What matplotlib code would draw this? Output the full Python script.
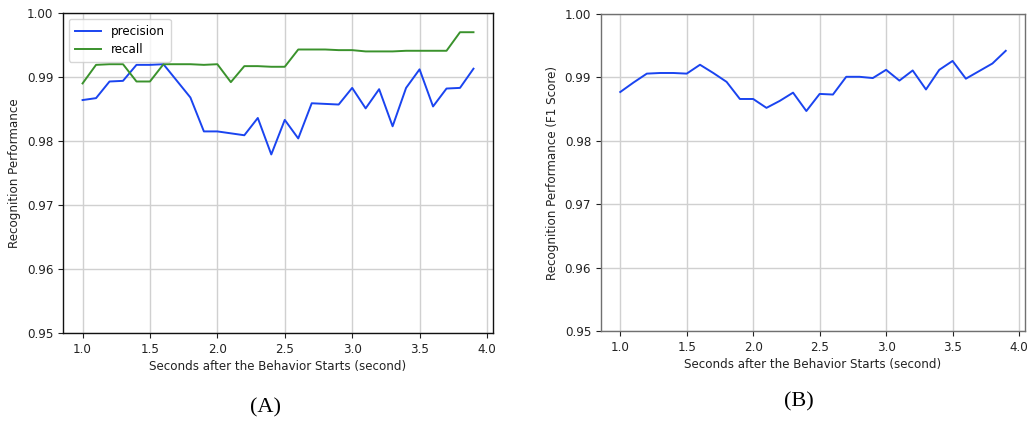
import numpy as np
import matplotlib.pyplot as plt

# seconds after the behavior starts
seconds = [1.0, 1.1, 1.2, 1.3, 1.4, 1.5, 1.6, 1.7, 1.8, 1.9,
           2.0, 2.1, 2.2, 2.3, 2.4, 2.5, 2.6, 2.7, 2.8, 2.9,
           3.0, 3.1, 3.2, 3.3, 3.4, 3.5, 3.6, 3.7, 3.8, 3.9]

precision = [0.9864, 0.9867, 0.9893, 0.9894, 0.9919, 0.9919, 0.9920, 0.9894, 0.9868, 0.9815,
             0.9815, 0.9812, 0.9809, 0.9836, 0.9779, 0.9833, 0.9804, 0.9859, 0.9858, 0.9857,
             0.9883, 0.9851, 0.9881, 0.9823, 0.9883, 0.9912, 0.9854, 0.9882, 0.9883, 0.9913]

recall = [0.9890, 0.9919, 0.9920, 0.9920, 0.9893, 0.9893, 0.9920, 0.9920, 0.9920, 0.9919,
          0.9920, 0.9892, 0.9917, 0.9917, 0.9916, 0.9916, 0.9943, 0.9943, 0.9943, 0.9942,
          0.9942, 0.9940, 0.9940, 0.9940, 0.9941, 0.9941, 0.9941, 0.9941, 0.9970, 0.9970]

f1 = [0.9877, 0.9892, 0.9906, 0.9907, 0.9907, 0.9906, 0.9920, 0.9907, 0.9893, 0.9866,
      0.9866, 0.9852, 0.9863, 0.9876, 0.9847, 0.9874, 0.9873, 0.9901, 0.9901, 0.9899,
      0.9912, 0.9895, 0.9911, 0.9881, 0.9912, 0.9926, 0.9898, 0.9910, 0.9922, 0.9942]

yticks = [0.95, 0.96, 0.97, 0.98, 0.99, 1.00]
xticks = [1.0, 1.5, 2.0, 2.5, 3.0, 3.5, 4.0]

BLUE = '#1a44f0'
GREEN = '#3a922c'
GRID = '#d0d0d0'
FS = 8.6


def style_axes(ax, spine_color):
    ax.set_ylim(0.95, 1.00)
    ax.set_xlim(0.855, 4.045)
    ax.set_yticks(yticks)
    ax.set_yticklabels([f'{v:.2f}' for v in yticks])
    ax.set_xticks(xticks)
    ax.grid(True, color=GRID, linewidth=1.0)
    ax.set_axisbelow(True)
    ax.tick_params(labelsize=FS, length=3.5, width=0.8, colors='#222222')
    for s in ax.spines.values():
        s.set_color(spine_color)
        s.set_linewidth(1.0)
    ax.set_xlabel('Seconds after the Behavior Starts (second)', fontsize=FS, color='#222222', labelpad=3)


fig = plt.figure(figsize=(10.28, 4.24), dpi=100)

# (A) precision and recall
ax1 = fig.add_axes([0.0613, 0.2146, 0.4183, 0.7547])
ax1.plot(seconds, precision, color=BLUE, linewidth=1.4, label='precision')
ax1.plot(seconds, recall, color=GREEN, linewidth=1.4, label='recall')
style_axes(ax1, '#111111')
ax1.set_ylabel('Recognition Performance', fontsize=FS, color='#222222')
ax1.legend(loc='upper left', fontsize=FS, handlelength=2.2, borderpad=0.5, labelspacing=0.4)

# (B) F1 score
ax2 = fig.add_axes([0.5846, 0.2193, 0.4125, 0.7476])
ax2.plot(seconds, f1, color=BLUE, linewidth=1.4)
style_axes(ax2, '#707070')
ax2.set_ylabel('Recognition Performance (F1 Score)', fontsize=FS, color='#222222')

fig.text(0.258, 0.038, '(A)', fontsize=16, family='Liberation Serif', ha='center', va='center')
fig.text(0.777, 0.052, '(B)', fontsize=16, family='Liberation Serif', ha='center', va='center')

fig.savefig('out.png', dpi=100, facecolor='white')
